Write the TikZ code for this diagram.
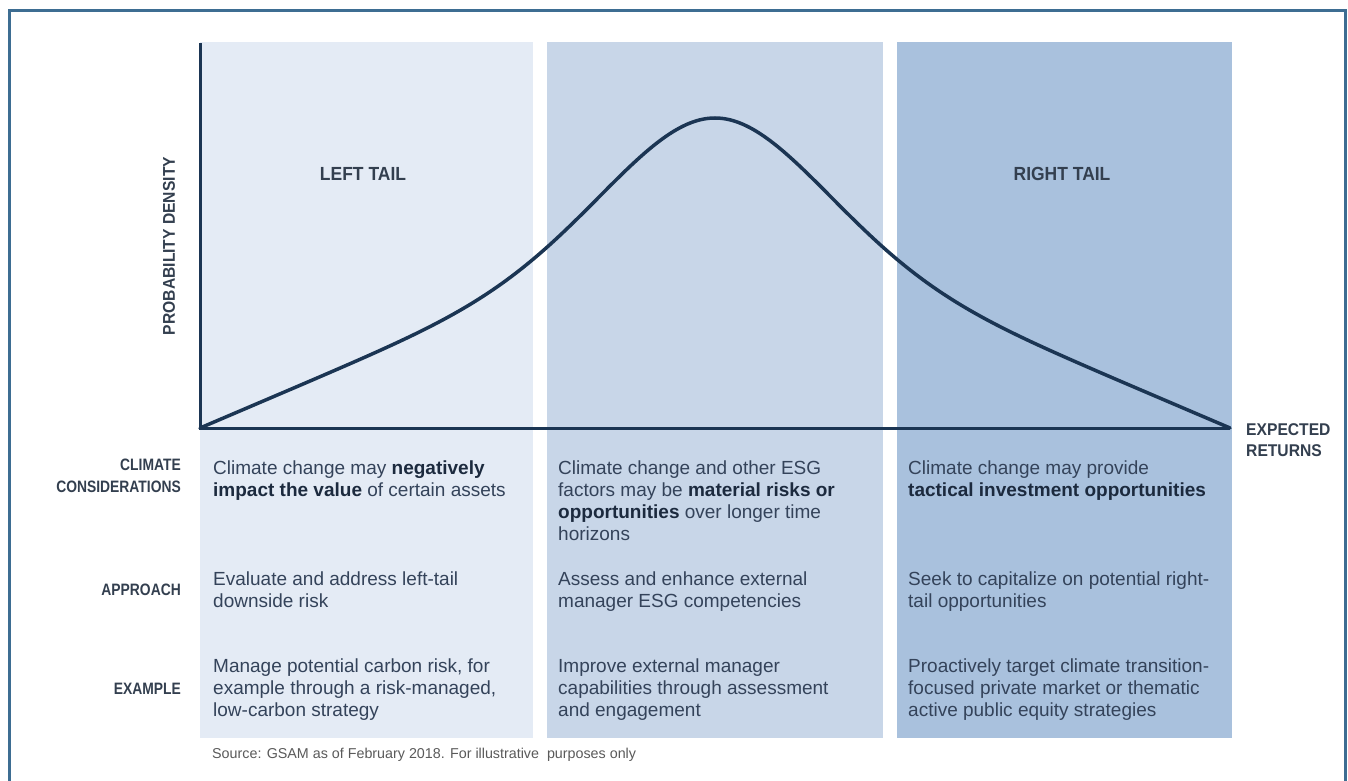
\documentclass[tikz,border=0pt]{standalone}
\usepackage{fontspec}
\setmainfont{Liberation Sans}
\newfontfamily\labfont{Liberation Sans}[FakeStretch=0.84]
\newfontfamily\tailfont{Liberation Sans}[FakeStretch=0.92]
\definecolor{pleft}{HTML}{E4EBF5}
\definecolor{pmid}{HTML}{C8D6E8}
\definecolor{pright}{HTML}{A9C1DD}
\definecolor{axiscol}{HTML}{1B3553}
\definecolor{bordercol}{HTML}{3D6D92}
\definecolor{bodycol}{HTML}{34435A}
\definecolor{boldcol}{HTML}{1C2A3E}
\definecolor{labcol}{HTML}{333F4F}
\definecolor{srccol}{HTML}{5A5A5A}
\newcommand\emphb[1]{{\bfseries\color{boldcol}#1}}
\tikzset{
  body/.style={font=\fontsize{19}{22}\selectfont, text=bodycol, align=left, anchor=north west, inner sep=0pt},
  rowlab/.style={font=\labfont\bfseries\fontsize{16.5}{22}\selectfont, text=labcol, align=right, anchor=north east, inner sep=0pt},
  taillab/.style={font=\tailfont\bfseries\fontsize{19}{22}\selectfont, text=labcol, inner sep=0pt},
  axislab/.style={font=\tailfont\bfseries\fontsize{17}{21}\selectfont, text=labcol, inner sep=0pt},
  axisline/.style={draw=axiscol, line width=3pt},
  curveline/.style={draw=axiscol, line width=3.5pt, line cap=round, line join=round},
}
\begin{document}
\begin{tikzpicture}[x=1pt,y=-1pt]
\useasboundingbox (0,0) rectangle (1348,780);
\fill[white] (0,0) rectangle (1348,780);
% panels
\fill[pleft] (200,42) rectangle (533,738);
\fill[pmid] (547,42) rectangle (883,738);
\fill[pright] (897,42) rectangle (1232,738);
% outer frame
\draw[bordercol, line width=3pt] (9,782) -- (9,10) -- (1345,10) -- (1345,782);
% axes
\coordinate (ytop) at (200,43);
\coordinate (orig) at (200,428);
\coordinate (xend) at (1230,428);
\draw[axisline] (ytop) -- (orig) -- (xend);
% curve: gaussian core + smoothed linear tails, peak at x=715
\draw[curveline] plot[domain=200:1230, samples=160, smooth] (\x, {428 - (113*exp(-((\x-715)/100)^2/2.388) + 197*(1 - (sqrt(((\x-715)/100)^2+0.36)-0.6)/4.585))});
% axis labels
\node[axislab, rotate=90] (ylab) at (169,246) {PROBABILITY DENSITY};
\node[axislab, align=left, anchor=north west] (xlab) at (1246,423) {EXPECTED\\RETURNS};
% tail labels
\node[taillab] (lt) at (363,174) {LEFT TAIL};
\node[taillab] (rt) at (1062,174) {RIGHT TAIL};
% row labels
\node[rowlab] (r1) at (181,459) {CLIMATE\\CONSIDERATIONS};
\node[rowlab] (r2) at (181,584) {APPROACH};
\node[rowlab] (r3) at (181,683) {EXAMPLE};
% row 1
\node[body] (c11) at (213,461) {Climate change may \emphb{negatively}\\\emphb{impact the value} of certain assets};
\node[body] (c12) at (558,461) {Climate change and other ESG\\factors may be \emphb{material risks or}\\\emphb{opportunities} over longer time\\horizons};
\node[body] (c13) at (908,461) {Climate change may provide\\\emphb{tactical investment opportunities}};
% row 2
\node[body] (c21) at (213,572) {Evaluate and address left-tail\\downside risk};
\node[body] (c22) at (558,572) {Assess and enhance external\\manager ESG competencies};
\node[body] (c23) at (908,572) {Seek to capitalize on potential right-\\tail opportunities};
% row 3
\node[body] (c31) at (213,659) {Manage potential carbon risk, for\\example through a risk-managed,\\low-carbon strategy};
\node[body] (c32) at (558,659) {Improve external manager\\capabilities through assessment\\and engagement};
\node[body] (c33) at (908,659) {Proactively target climate transition-\\focused private market or thematic\\active public equity strategies};
% source
\node[font=\fontsize{14.3}{16}\selectfont, text=srccol, anchor=west, inner sep=0pt] (src) at (212,755) {Source: GSAM as of February 2018. For illustrative\ \ purposes only};
\end{tikzpicture}
\end{document}
